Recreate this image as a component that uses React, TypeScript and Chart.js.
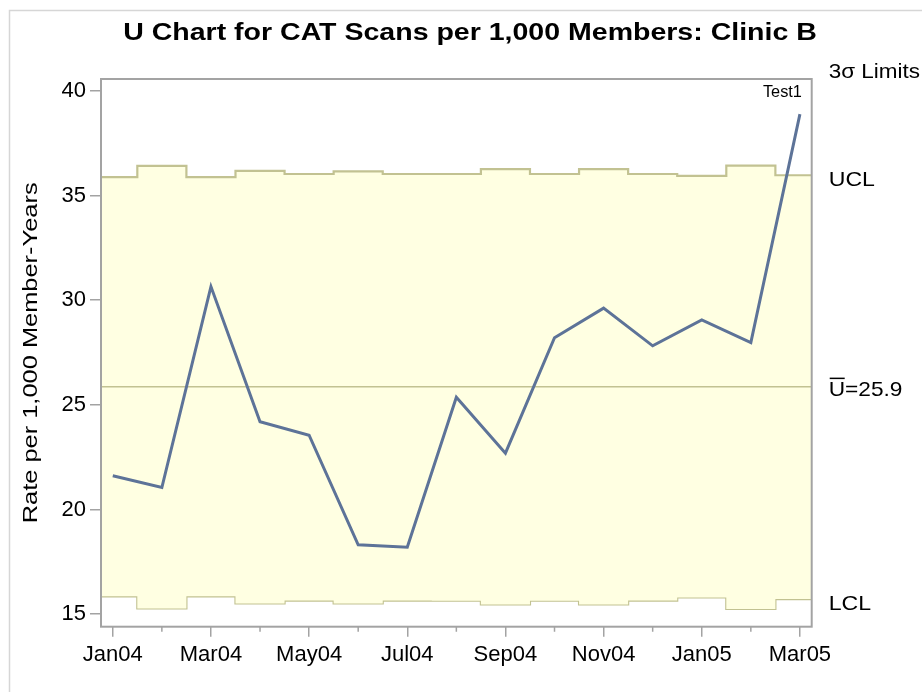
import React, { useEffect, useRef } from "react";
import { Chart, registerables } from "chart.js";

Chart.register(...registerables);

const MONTHS = ["Jan04", "Feb04", "Mar04", "Apr04", "May04", "Jun04", "Jul04", "Aug04", "Sep04", "Oct04", "Nov04", "Dec04", "Jan05", "Feb05", "Mar05"];
const RATES = [21.61, 21.05, 30.65, 24.19, 23.55, 18.31, 18.2, 25.36, 22.69, 28.21, 29.62, 27.82, 29.06, 27.98, 38.89];
const UCL = [35.88, 36.42, 35.88, 36.18, 36.03, 36.16, 36.03, 36.03, 36.26, 36.03, 36.26, 36.03, 35.94, 36.43, 35.97];
const LCL = [15.85, 15.27, 15.85, 15.51, 15.65, 15.51, 15.65, 15.64, 15.46, 15.64, 15.46, 15.65, 15.8, 15.25, 15.72];
const UBAR = 25.86;
const Y_MIN = 14.4;
const Y_MAX = 40.57;
const Y_STEP = 5;
const X_MIN = -0.24;
const X_MAX = MONTHS.length - 1 + 0.24;

const TITLE = "U Chart for CAT Scans per 1,000 Members: Clinic B";
const Y_TITLE = "Rate per 1,000 Member-Years";
const FONT = "'Liberation Sans', Arial, Helvetica, sans-serif";

const GREY = "#A3A3A3";
const LIMIT_COLOR = "#C2C292";
const FILL_COLOR = "#FFFFE2";
const LINE_COLOR = "#5D7398";

function withEdges(values: number[]) {
  const pts = values.map((v, i) => ({ x: i, y: v }));
  return [{ x: X_MIN, y: values[0] }, ...pts, { x: X_MAX, y: values[values.length - 1] }];
}

function drawText(ctx: CanvasRenderingContext2D, text: string, x: number, y: number, font: string, sx: number, align: CanvasTextAlign, rotate = false) {
  ctx.save();
  ctx.translate(x, y);
  if (rotate) ctx.rotate(-Math.PI / 2);
  ctx.scale(sx, 1);
  ctx.font = font;
  ctx.textAlign = align;
  ctx.textBaseline = "alphabetic";
  ctx.fillStyle = "#000";
  ctx.fillText(text, 0, 0);
  ctx.restore();
}

const decorPlugin = {
  id: "decor",
  beforeDraw(chart: any) {
    const ctx = chart.ctx as CanvasRenderingContext2D;
    ctx.save();
    ctx.fillStyle = "#fff";
    ctx.fillRect(0, 0, chart.width, chart.height);
    ctx.strokeStyle = "#D6D6D6";
    ctx.lineWidth = 1.5;
    ctx.strokeRect(9.5, 10.5, chart.width + 20, chart.height + 20);
    ctx.restore();
  },
  afterDatasetsDraw(chart: any) {
    const ctx = chart.ctx as CanvasRenderingContext2D;
    const a = chart.chartArea;
    ctx.save();
    ctx.strokeStyle = GREY;
    ctx.lineWidth = 2;
    ctx.strokeRect(a.left, a.top, a.right - a.left, a.bottom - a.top);
    // minor x ticks
    const xs = chart.scales.x;
    ctx.lineWidth = 1.5;
    ctx.beginPath();
    for (let i = 1; i < MONTHS.length; i += 2) {
      const px = xs.getPixelForValue(i);
      ctx.moveTo(px, a.bottom);
      ctx.lineTo(px, a.bottom + 5);
    }
    ctx.stroke();
    ctx.restore();
  },
  afterDraw(chart: any) {
    const ctx = chart.ctx as CanvasRenderingContext2D;
    const a = chart.chartArea;
    const ys = chart.scales.y;
    const xs = chart.scales.x;
    drawText(ctx, TITLE, 470, 39.5, `bold 23px ${FONT}`, 1.24, "center");
    drawText(ctx, Y_TITLE, 36.5, (a.top + a.bottom) / 2, `21px ${FONT}`, 1.21, "center", true);
    const lx = a.right + 17;
    drawText(ctx, "3\u03C3 Limits", lx, a.top - 1.5, `21px ${FONT}`, 1.07, "left");
    drawText(ctx, "UCL", lx, ys.getPixelForValue(UCL[UCL.length - 1]) + 11, `21px ${FONT}`, 1.1, "left");
    drawText(ctx, "LCL", lx, ys.getPixelForValue(LCL[LCL.length - 1]) + 10.5, `21px ${FONT}`, 1.1, "left");
    const uy = ys.getPixelForValue(UBAR) + 9.5;
    drawText(ctx, "U=" + UBAR.toFixed(1), lx, uy, `21px ${FONT}`, 1.08, "left");
    ctx.save();
    ctx.strokeStyle = "#000";
    ctx.lineWidth = 1.5;
    ctx.beginPath();
    ctx.moveTo(lx + 1, uy - 18);
    ctx.lineTo(lx + 16, uy - 18);
    ctx.stroke();
    ctx.restore();
    drawText(ctx, "Test1", xs.getPixelForValue(MONTHS.length - 1) + 2, a.top + 18, `16px ${FONT}`, 1.02, "right");
  },
};

export default function App() {
  const ref = useRef<HTMLCanvasElement | null>(null);
  useEffect(() => {
    if (!ref.current) return;
    const chart = new Chart(ref.current, {
      type: "line",
      data: {
        datasets: [
          {
            label: "Rate",
            data: RATES.map((v, i) => ({ x: i, y: v })),
            borderColor: LINE_COLOR,
            borderWidth: 3,
            pointRadius: 0,
            fill: false,
            tension: 0,
          },
          {
            label: "Center",
            data: [{ x: X_MIN, y: UBAR }, { x: X_MAX, y: UBAR }],
            borderColor: LIMIT_COLOR,
            borderWidth: 1.5,
            pointRadius: 0,
            fill: false,
          },
          {
            label: "UCL",
            data: withEdges(UCL),
            stepped: "middle",
            borderColor: LIMIT_COLOR,
            borderWidth: 2.2,
            pointRadius: 0,
            fill: "+1",
            backgroundColor: FILL_COLOR,
          },
          {
            label: "LCL",
            data: withEdges(LCL),
            stepped: "middle",
            borderColor: LIMIT_COLOR,
            borderWidth: 2.2,
            pointRadius: 0,
            fill: false,
          },
        ],
      },
      plugins: [decorPlugin],
      options: {
        animation: false,
        responsive: false,
        maintainAspectRatio: false,
        layout: { padding: { top: 79, right: 110.3, bottom: 0, left: 0 } },
        plugins: { legend: { display: false }, tooltip: { enabled: false }, title: { display: false } },
        scales: {
          x: {
            type: "linear",
            min: X_MIN,
            max: X_MAX,
            afterFit: (s: any) => {
              s.height = 65.3;
            },
            border: { display: false },
            grid: {
              drawOnChartArea: false,
              drawTicks: true,
              tickLength: 10,
              lineWidth: 1.5,
              color: (c: any) => (c.tick && Math.round(c.tick.value) % 2 === 0 ? GREY : "rgba(0,0,0,0)"),
            },
            ticks: {
              stepSize: 1,
              includeBounds: false,
              autoSkip: false,
              maxRotation: 0,
              minRotation: 0,
              padding: 5,
              color: "#000",
              font: { family: FONT, size: 22 },
              callback: (v: any) => {
                const i = Math.round(Number(v));
                return i % 2 === 0 ? MONTHS[i] ?? "" : "";
              },
            },
          },
          y: {
            type: "linear",
            min: Y_MIN,
            max: Y_MAX,
            afterFit: (s: any) => {
              s.width = 101;
            },
            border: { display: false },
            grid: { drawOnChartArea: false, drawTicks: true, tickLength: 11, lineWidth: 1.5, color: GREY },
            ticks: {
              stepSize: Y_STEP,
              includeBounds: false,
              padding: 4,
              color: "#000",
              font: { family: FONT, size: 22 },
            },
          },
        },
      },
    });
    return () => chart.destroy();
  }, []);
  return (
    <div style={{ position: "fixed", left: 0, top: 0, width: 922, height: 692, background: "#fff" }}>
      <canvas ref={ref} width={922} height={692} style={{ width: 922, height: 692, display: "block" }} />
    </div>
  );
}
